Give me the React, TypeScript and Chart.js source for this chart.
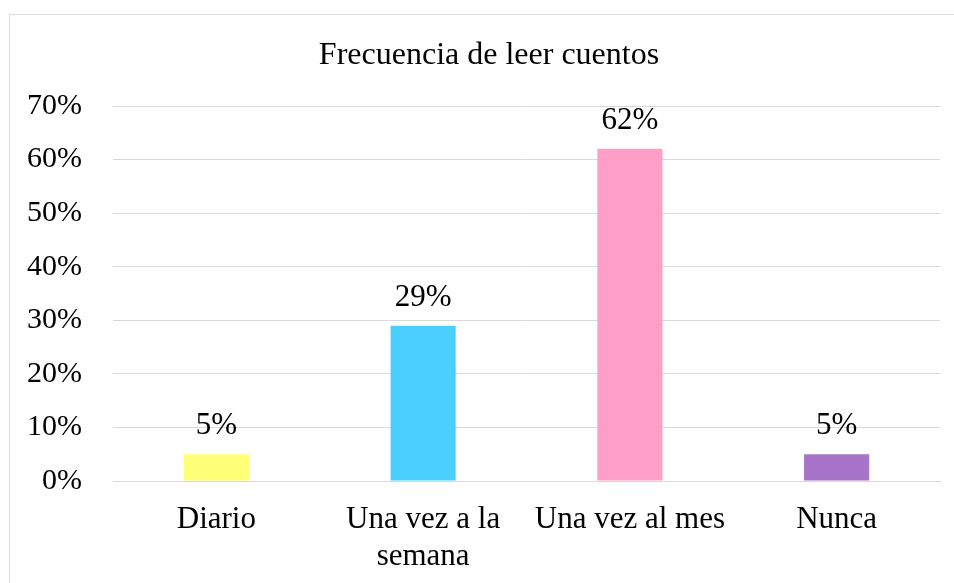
import React, { useEffect, useRef } from "react";
import { Chart, registerables } from "chart.js";

Chart.register(...registerables);

const categories: (string | string[])[] = ["Diario", ["Una vez a la", "semana"], "Una vez al mes", "Nunca"];
const values = [5, 29, 62, 5];
const barColors = ["#FFFF78", "#4BCFFF", "#FF9EC6", "#A774C9"];
const titleText = "Frecuencia de leer cuentos";
const yMax = 70;
const yStep = 10;

const FONT = "'Liberation Serif', 'Times New Roman', serif";

export default function App() {
  const ref = useRef<HTMLCanvasElement>(null);
  useEffect(() => {
    if (!ref.current) return;
    const frame = {
      id: "frame",
      beforeDraw(chart: any) {
        const ctx = chart.ctx;
        ctx.save();
        ctx.fillStyle = "#ffffff";
        ctx.fillRect(0, 0, chart.width, chart.height);
        ctx.strokeStyle = "#d9d9d9";
        ctx.lineWidth = 1;
        ctx.strokeRect(9.5, 14.5, 1000, 1000);
        ctx.fillStyle = "#000";
        ctx.font = `32px ${FONT}`;
        ctx.textAlign = "center";
        ctx.textBaseline = "middle";
        ctx.fillText(titleText, 489, 56);
        ctx.restore();
      },
      afterDatasetsDraw(chart: any) {
        const ctx = chart.ctx;
        const meta = chart.getDatasetMeta(0);
        ctx.save();
        ctx.fillStyle = "#000";
        ctx.font = `31px ${FONT}`;
        ctx.textAlign = "center";
        ctx.textBaseline = "middle";
        meta.data.forEach((bar: any, i: number) => {
          ctx.fillText(values[i] + "%", bar.x, bar.y - 28);
        });
        ctx.restore();
      },
    };
    const chart = new Chart(ref.current, {
      type: "bar",
      data: {
        labels: categories,
        datasets: [
          {
            data: values,
            backgroundColor: barColors,
            borderWidth: 0,
            categoryPercentage: 1,
            barPercentage: 0.315,
          },
        ],
      },
      options: {
        animation: false,
        responsive: false,
        maintainAspectRatio: false,
        layout: { padding: { left: 0, right: 14, top: 106, bottom: 0 } },
        plugins: { legend: { display: false }, title: { display: false }, tooltip: { enabled: false } },
        scales: {
          x: {
            grid: { display: false, drawTicks: false },
            border: { display: true, color: "#d9d9d9", width: 1 },
            ticks: {
              color: "#000",
              font: { family: FONT, size: 31, lineHeight: 1.2 },
              padding: 20,
              maxRotation: 0,
              autoSkip: false,
            },
            afterFit: (s: any) => {
              s.height = 102;
            },
          },
          y: {
            min: 0,
            max: yMax,
            grid: { color: "#d9d9d9", lineWidth: 1, drawTicks: false },
            border: { display: false },
            ticks: {
              stepSize: yStep,
              color: "#000",
              font: { family: FONT, size: 30 },
              padding: 31,
              callback: (v: any) => v + "%",
            },
            afterFit: (s: any) => {
              s.width = 113;
            },
          },
        },
      },
      plugins: [frame],
    });
    return () => chart.destroy();
  }, []);
  return (
    <div style={{ position: "fixed", left: 0, top: 0, width: 954, height: 583, background: "#fff" }}>
      <canvas ref={ref} width={954} height={583} style={{ display: "block" }} />
    </div>
  );
}
